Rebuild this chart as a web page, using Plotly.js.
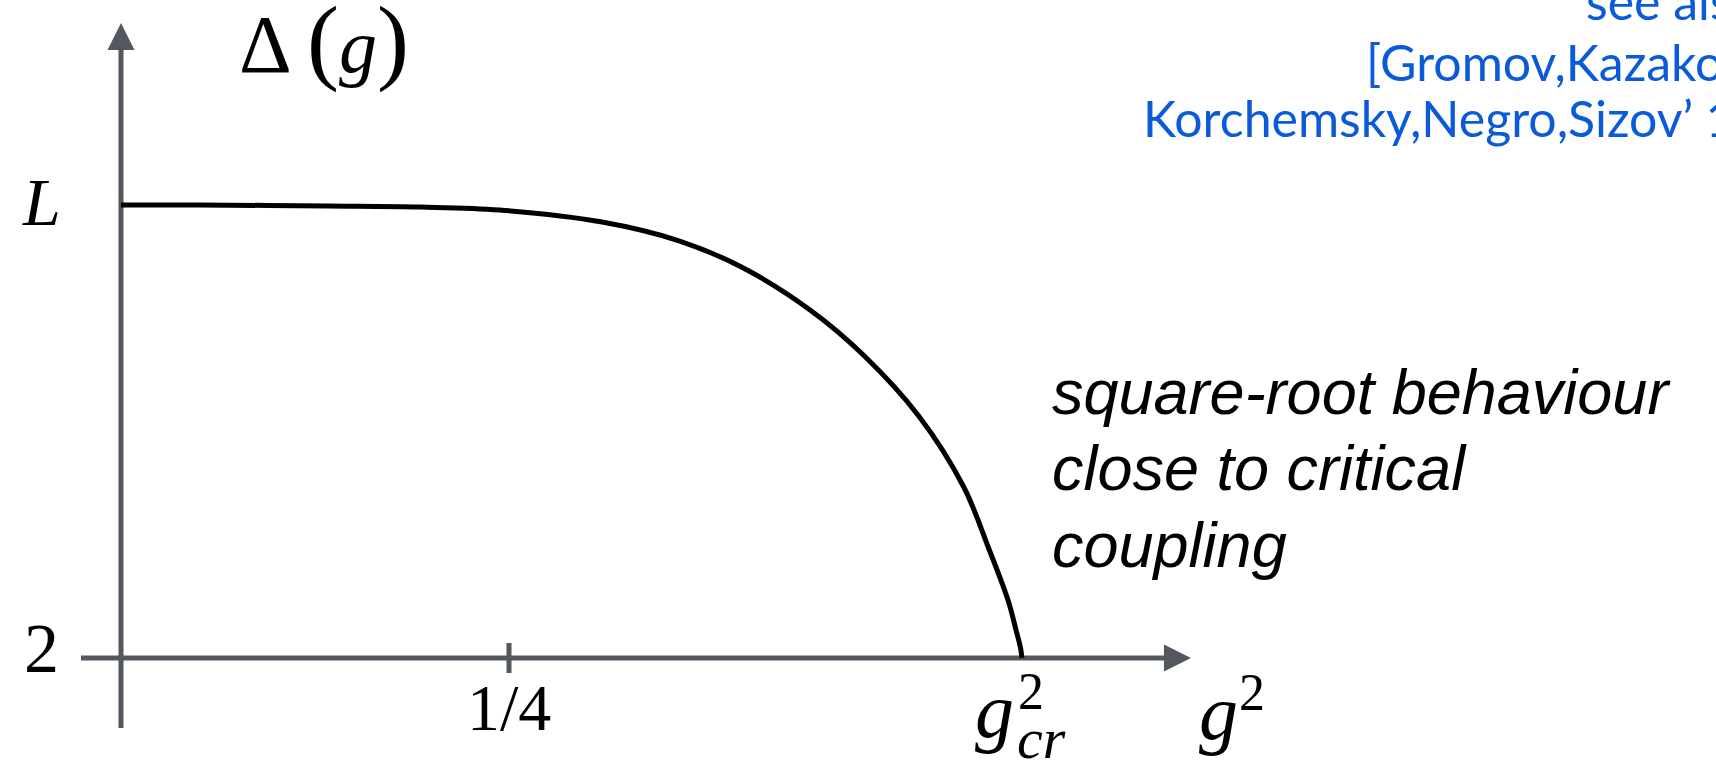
<!DOCTYPE html>
<html>
<head>
<meta charset="utf-8">
<script src="https://cdn.plot.ly/plotly-3.0.1.min.js"></script>
<style>
  html, body { margin: 0; padding: 0; background: #ffffff; }
  #chart { width: 1716px; height: 760px; }
</style>
</head>
<body>
<div id="chart"></div>
<script>
// Scaling dimension Delta(g) as a function of the coupling g^2
const gSquared = [0, 0.051, 0.133, 0.193, 0.244, 0.310, 0.360, 0.401, 0.444, 0.479,
                  0.514, 0.543, 0.559, 0.5715, 0.5767, 0.5796, 0.5805];
const delta    = [6, 6, 5.991, 5.982, 5.956, 5.850, 5.682, 5.444, 5.073, 4.667,
                  4.137, 3.510, 2.971, 2.512, 2.247, 2.088, 2.0];

// Axis tick marks and their labels
const yTickVals   = [2, 6];
const yTickLabels = ['2', '<i>L</i>'];
const xTickVals   = [0.25];
const xTickLabels = ['1/4'];

// Notes
const noteLines = ['square-root behaviour', 'close to critical', 'coupling'];
const refLines  = ['see also', '[Gromov,Kazakov,', 'Korchemsky,Negro,Sizov\u2019 17]'];

const W = 1716, H = 760;
const AXIS = '#53575e';
const SERIF = 'Liberation Serif, Times New Roman, serif';
const gCritical = gSquared[gSquared.length - 1];

// plot area fills the whole figure; ranges chosen so the origin sits near the left edge
const xRange = [-0.077964, 1.027706];
const yRange = [1.09934, 7.81015];

const pxX = (xRange[1] - xRange[0]) / W;   // data units per pixel (x)
const pxY = (yRange[1] - yRange[0]) / H;   // data units per pixel (y)

const trace = {
  x: gSquared,
  y: delta,
  type: 'scatter',
  mode: 'lines',
  line: { color: '#000000', width: 5, shape: 'spline', smoothing: 1 },
  hoverinfo: 'skip',
  showlegend: false
};

const xAxisEnd = 0.6894;                 // arrow tip of the horizontal axis
const yAxisEnd = 7.607;                  // arrow tip of the vertical axis
const headLen = 27, headHalf = 13.5;     // arrowhead size in pixels

const shapes = [
  // horizontal axis
  { type: 'line', xref: 'x', yref: 'y', layer: 'below',
    x0: -40 * pxX, x1: xAxisEnd - (headLen - 2) * pxX, y0: 2, y1: 2,
    line: { color: AXIS, width: 5 } },
  { type: 'path', xref: 'x', yref: 'y', layer: 'below',
    path: `M ${xAxisEnd} 2 L ${xAxisEnd - headLen * pxX} ${2 + headHalf * pxY} L ${xAxisEnd - headLen * pxX} ${2 - headHalf * pxY} Z`,
    fillcolor: AXIS, line: { width: 0 } },
  // vertical axis
  { type: 'line', xref: 'x', yref: 'y', layer: 'below',
    x0: 0, x1: 0, y0: 2 - 70 * pxY, y1: yAxisEnd - (headLen - 2) * pxY,
    line: { color: AXIS, width: 5 } },
  { type: 'path', xref: 'x', yref: 'y', layer: 'below',
    path: `M 0 ${yAxisEnd} L ${-headHalf * pxX} ${yAxisEnd - headLen * pxY} L ${headHalf * pxX} ${yAxisEnd - headLen * pxY} Z`,
    fillcolor: AXIS, line: { width: 0 } }
];

// small tick marks on the horizontal axis
xTickVals.forEach(v => shapes.push({
  type: 'line', xref: 'x', yref: 'y', layer: 'below',
  x0: v, x1: v, y0: 2 - 15 * pxY, y1: 2 + 15 * pxY,
  line: { color: AXIS, width: 5 }
}));

const ann = [];
const serif = (size) => ({ family: SERIF, size: size, color: '#000000' });
const label = (o) => Object.assign({ showarrow: false, xanchor: 'center', yanchor: 'middle' }, o);

// y tick labels
yTickVals.forEach((v, i) => ann.push(label({
  xref: 'x', yref: 'y', x: 0, y: v, xshift: -80, yshift: i === 0 ? 10 : 3,
  text: yTickLabels[i], font: serif(i === 0 ? 70 : 68)
})));

// x tick labels
xTickVals.forEach((v, i) => ann.push(label({
  xref: 'x', yref: 'y', x: v, y: 2, yshift: -49,
  text: xTickLabels[i], font: serif(66)
})));

// critical coupling label g_cr^2
ann.push(
  label({ xref: 'x', yref: 'y', x: gCritical, y: 2, xshift: -27, yshift: -52,
          text: '<i>g</i>', font: serif(78) }),
  label({ xref: 'x', yref: 'y', x: gCritical, y: 2, xshift: 9, yshift: -33,
          text: '2', font: serif(52) }),
  label({ xref: 'x', yref: 'y', x: gCritical, y: 2, xshift: 20, yshift: -80,
          text: '<i>cr</i>', font: serif(58) })
);

// axis titles
ann.push(
  label({ xref: 'paper', yref: 'paper', x: 1218 / W, y: 1 - 712 / H,
          text: '<i>g</i>', font: serif(78) }),
  label({ xref: 'paper', yref: 'paper', x: 1252 / W, y: 1 - 692 / H,
          text: '2', font: serif(52) }),
  label({ xref: 'paper', yref: 'paper', x: 324 / W, y: 1 - 40 / H,
          text: '<span style="font-size:82px">\u0394</span>\u2009<span style="font-size:96px">(</span><i>g</i><span style="font-size:96px">)</span>',
          font: serif(76) })
);

// note about the behaviour near the critical point
const noteCenters = [392, 468, 545];
noteLines.forEach((t, i) => ann.push(label({
  xref: 'paper', yref: 'paper', x: 1050 / W, y: 1 - noteCenters[i] / H,
  text: '<i>' + t + '</i>', xanchor: 'left',
  font: { family: 'Liberation Sans, Arial, sans-serif', size: 63, color: '#000000' }
})));

// reference note, running off the right edge
const refStarts = [1584, 1364, 1141];
const refCenters = [1, 62, 118];
refLines.forEach((t, i) => ann.push(label({
  xref: 'paper', yref: 'paper', x: refStarts[i] / W, y: 1 - refCenters[i] / H,
  text: t, xanchor: 'left',
  font: { family: 'Lato, Open Sans, sans-serif', size: 50, color: '#0b5ad9' }
})));

const layout = {
  width: W, height: H,
  margin: { l: 0, r: 0, t: 0, b: 0, pad: 0 },
  paper_bgcolor: '#ffffff', plot_bgcolor: '#ffffff',
  xaxis: { range: xRange, visible: false, showgrid: false, zeroline: false, fixedrange: true },
  yaxis: { range: yRange, visible: false, showgrid: false, zeroline: false, fixedrange: true },
  shapes: shapes,
  annotations: ann,
  showlegend: false
};

Plotly.newPlot('chart', [trace], layout, { staticPlot: true, displayModeBar: false });
</script>
</body>
</html>
